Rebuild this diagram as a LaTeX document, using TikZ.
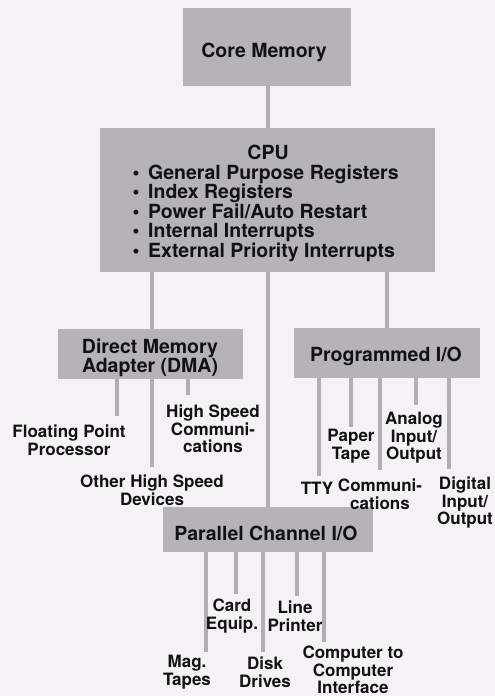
\documentclass[tikz,border=0pt]{standalone}
\usepackage{fontspec}
\setmainfont{TeX Gyre Heros}
\definecolor{bgc}{HTML}{F4F2F4}
\definecolor{boxc}{HTML}{B5B3B7}
\definecolor{wirec}{HTML}{B0AEB3}
\definecolor{ink}{HTML}{121212}
\newcommand{\bul}{\makebox[17pt][l]{\hspace{1.5pt}\textbullet}}
\begin{document}
\begin{tikzpicture}[x=1pt,y=-1pt,
  box/.style={fill=boxc, draw=none, inner sep=0pt},
  boxtext/.style={font=\bfseries\fontsize{19.5}{19.5}\selectfont, align=center, inner sep=0pt, text=ink},
  lbl/.style={font=\bfseries\fontsize{17}{17.5}\selectfont, align=center, inner sep=0pt, text=ink},
  wire/.style={draw=wirec, line width=4pt}]
\fill[bgc] (0,0) rectangle (495,696);
\useasboundingbox (0,0) rectangle (495,696);

% boxes
\node[box, minimum width=168pt, minimum height=78pt] (core) at (267,47) {};
\node[boxtext] (coretext) at (264,52) {Core Memory};

\node[box, minimum width=335pt, minimum height=144pt] (cpu) at (267.5,200) {};
\node[boxtext] (cputitle) at (268,152) {CPU};
\node[boxtext, align=left, anchor=west] (cpulist) at (131,213) {%
\bul General Purpose Registers\\
\bul Index Registers\\
\bul Power Fail/Auto Restart\\
\bul Internal Interrupts\\
\bul External Priority Interrupts};

\node[box, minimum width=185pt, minimum height=50pt] (dma) at (150.5,354) {};
\node[boxtext] (dmatext) at (150,358) {Direct Memory\\Adapter (DMA)};

\node[box, minimum width=186pt, minimum height=50pt] (pio) at (387,353) {};
\node[boxtext] (piotext) at (386,356) {Programmed I/O};

\node[box, minimum width=210pt, minimum height=45pt] (pcio) at (268,529.5) {};
\node[boxtext] (pciotext) at (266,533) {Parallel Channel I/O};

% line positions
\coordinate (xa) at (152,0);
\coordinate (xc) at (268,0);

% main connectors
\draw[wire] (core.south -| xc) -- (cpu.north -| xc);
\draw[wire] (cpu.south -| xa) -- (dma.north -| xa);
\draw[wire] (cpu.south -| xc) -- (pcio.north -| xc);
\draw[wire] (cpu.south -| pio.north) -- (pio.north);

% DMA children
\coordinate (fppend) at (117,416);
\coordinate (ohsend) at (152,467);
\coordinate (hscend) at (188,395);
\draw[wire] (dma.south -| fppend) -- (fppend);
\draw[wire] (dma.south -| ohsend) -- (ohsend);
\draw[wire] (dma.south -| hscend) -- (hscend);
\node[lbl] (fpp) at (69,440) {Floating Point\\Processor};
\node[lbl] (ohs) at (152,490) {Other High Speed\\Devices};
\node[lbl] (hsc) at (213,429) {High Speed\\Communi-\\cations};

% PIO children
\coordinate (ttyend) at (319,476);
\coordinate (pptend) at (351,427);
\coordinate (comend) at (380,470);
\coordinate (anaend) at (416,405);
\coordinate (digend) at (449,469);
\draw[wire] (pio.south -| ttyend) -- (ttyend);
\draw[wire] (pio.south -| pptend) -- (pptend);
\draw[wire] (pio.south -| comend) -- (comend);
\draw[wire] (pio.south -| anaend) -- (anaend);
\draw[wire] (pio.south -| digend) -- (digend);
\node[lbl] (tty) at (317,488) {TTY};
\node[lbl] (ppt) at (351,446) {Paper\\Tape};
\node[lbl] (com) at (380,494) {Communi-\\cations};
\node[lbl] (ana) at (414,438) {Analog\\Input/\\Output};
\node[lbl] (dig) at (465,503) {Digital\\Input/\\Output};

% Parallel channel children
\coordinate (magend) at (206,652);
\coordinate (cardend) at (236,594);
\coordinate (diskend) at (263,652);
\coordinate (lpend) at (297,596);
\coordinate (ccend) at (324,642);
\draw[wire] (pcio.south -| magend) -- (magend);
\draw[wire] (pcio.south -| cardend) -- (cardend);
\draw[wire] (pcio.south -| diskend) -- (diskend);
\draw[wire] (pcio.south -| lpend) -- (lpend);
\draw[wire] (pcio.south -| ccend) -- (ccend);
\node[lbl] (mag) at (187,672) {Mag.\\Tapes};
\node[lbl] (card) at (232,616) {Card\\Equip.};
\node[lbl] (disk) at (265,672) {Disk\\Drives};
\node[lbl] (lp) at (295,616) {Line\\Printer};
\node[lbl] (cc) at (353,670) {Computer to\\Computer\\Interface};
\end{tikzpicture}
\end{document}
